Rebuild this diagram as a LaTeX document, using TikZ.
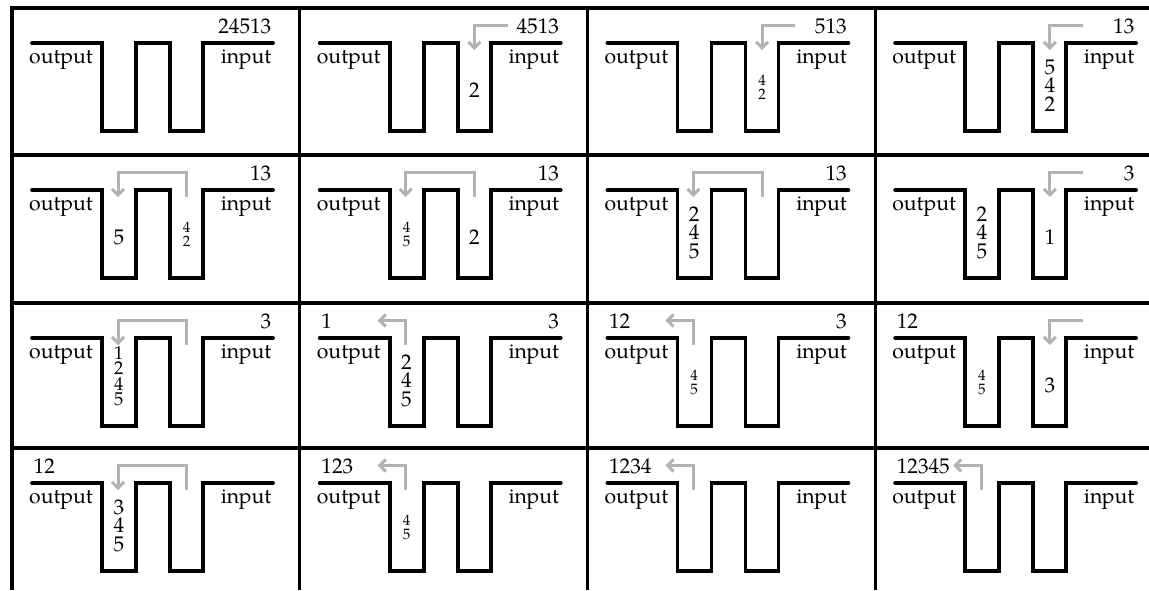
\documentclass[tikz,border=0pt]{standalone}
\usepackage{fontspec}
\setmainfont{texgyrepagella-regular}[Extension=.otf]
\usetikzlibrary{arrows.meta}
\newcommand\rsBigSize{\fontsize{21.2}{26}\selectfont}
\newcommand\rsMidSize{\fontsize{18.5}{22}\selectfont}
\newcommand\rsSmallSize{\fontsize{15}{18}\selectfont}
\tikzset{
  track/.style={line width=3.8pt, line cap=round, line join=miter},
  gridline/.style={line width=3.2pt},
  flow/.style={line width=3pt, draw=black!30, line join=miter,
    -{Straight Barb[length=6pt,width=12pt]}},
  lbl/.style={inner sep=0pt, font=\rsBigSize},
  mlbl/.style={inner sep=0pt, font=\rsMidSize},
  slbl/.style={inner sep=0pt, font=\rsSmallSize},
}
% stacks of cars in a siding; #2 = x centre of the siding
\newcommand\sone[3]{\node[lbl,anchor=base] (#1) at (#2,89) {#3};}
\newcommand\stwo[4]{%
  \node[slbl,anchor=base] (#1a) at (#2,77) {#3};
  \node[slbl,anchor=base] (#1b) at (#2,91) {#4};}
\newcommand\sthree[5]{%
  \node[lbl,anchor=base] (#1a) at (#2,66) {#3};
  \node[lbl,anchor=base] (#1b) at (#2,84.5) {#4};
  \node[lbl,anchor=base] (#1c) at (#2,103) {#5};}
\newcommand\sfour[6]{%
  \node[mlbl,anchor=base] (#1a) at (#2,56) {#3};
  \node[mlbl,anchor=base] (#1b) at (#2,71.5) {#4};
  \node[mlbl,anchor=base] (#1c) at (#2,87) {#5};
  \node[mlbl,anchor=base] (#1d) at (#2,102.5) {#6};}
% common frame of one panel
\newcommand\basepanel{%
  \draw[track] (20,35) -- (90,35) -- (90,123) -- (124,123) -- (124,35)
    -- (158,35) -- (158,123) -- (191,123) -- (191,35) -- (261,35);
  \node[lbl,anchor=base west] (output) at (17,55) {output};
  \node[lbl,anchor=base east] (input) at (259.5,55) {input};
  \coordinate (inS) at (208,17.5);
  \coordinate (rTop) at (174.7,17.5);
  \coordinate (rIn) at (174.7,42);
  \coordinate (lTop) at (106,17.5);
  \coordinate (lIn) at (106,42);
  \coordinate (outTip) at (78,17.5);}
\newcommand\tr[1]{\node[lbl,anchor=base east] (tr) at (259.5,25.5) {#1};}
\newcommand\tl[1]{\node[lbl,anchor=base west] (tl) at (21.5,25.5) {#1};}
\newcommand\arrin{\draw[flow] (inS) -- (rTop) -- (rIn);}
\newcommand\arrmove{\draw[flow] (rIn) -- (rTop) -- (lTop) -- (lIn);}
\newcommand\arrout{\draw[flow] (lIn) -- (lTop) -- (outTip);}
\def\Lx{106.8}
\def\Rx{174.7}
\begin{document}
\begin{tikzpicture}[x=1pt,y=-1pt]
\useasboundingbox (0,0) rectangle (1149,590);
% table rules
\draw[gridline] (12,590) -- (12,8) -- (1149,8);
\foreach \yy in {155,303,448} \draw[gridline] (12,\yy) -- (1149,\yy);
\foreach \xx in {299.7,587.4,875.1} \draw[gridline] (\xx,8) -- (\xx,590);
% row 1
\begin{scope}[shift={(12,8)},name prefix=c1-]
  \basepanel \tr{24513}
\end{scope}
\begin{scope}[shift={(299.7,8)},name prefix=c2-]
  \basepanel \tr{4513} \arrin \sone{r}{\Rx}{2}
\end{scope}
\begin{scope}[shift={(587.4,8)},name prefix=c3-]
  \basepanel \tr{513} \arrin \stwo{r}{\Rx}{4}{2}
\end{scope}
\begin{scope}[shift={(875.1,8)},name prefix=c4-]
  \basepanel \tr{13} \arrin \sthree{r}{\Rx}{5}{4}{2}
\end{scope}
% row 2
\begin{scope}[shift={(12,155)},name prefix=c5-]
  \basepanel \tr{13} \arrmove \sone{l}{\Lx}{5} \stwo{r}{\Rx}{4}{2}
\end{scope}
\begin{scope}[shift={(299.7,155)},name prefix=c6-]
  \basepanel \tr{13} \arrmove \stwo{l}{\Lx}{4}{5} \sone{r}{\Rx}{2}
\end{scope}
\begin{scope}[shift={(587.4,155)},name prefix=c7-]
  \basepanel \tr{13} \arrmove \sthree{l}{\Lx}{2}{4}{5}
\end{scope}
\begin{scope}[shift={(875.1,155)},name prefix=c8-]
  \basepanel \tr{3} \arrin \sthree{l}{\Lx}{2}{4}{5} \sone{r}{\Rx}{1}
\end{scope}
% row 3
\begin{scope}[shift={(12,303)},name prefix=c9-]
  \basepanel \tr{3} \arrmove \sfour{l}{\Lx}{1}{2}{4}{5}
\end{scope}
\begin{scope}[shift={(299.7,303)},name prefix=c10-]
  \basepanel \tl{1} \tr{3} \arrout \sthree{l}{\Lx}{2}{4}{5}
\end{scope}
\begin{scope}[shift={(587.4,303)},name prefix=c11-]
  \basepanel \tl{12} \tr{3} \arrout \stwo{l}{\Lx}{4}{5}
\end{scope}
\begin{scope}[shift={(875.1,303)},name prefix=c12-]
  \basepanel \tl{12} \arrin \stwo{l}{\Lx}{4}{5} \sone{r}{\Rx}{3}
\end{scope}
% row 4
\begin{scope}[shift={(12,448)},name prefix=c13-]
  \basepanel \tl{12} \arrmove \sthree{l}{\Lx}{3}{4}{5}
\end{scope}
\begin{scope}[shift={(299.7,448)},name prefix=c14-]
  \basepanel \tl{123} \arrout \stwo{l}{\Lx}{4}{5}
\end{scope}
\begin{scope}[shift={(587.4,448)},name prefix=c15-]
  \basepanel \tl{1234} \arrout
\end{scope}
\begin{scope}[shift={(875.1,448)},name prefix=c16-]
  \basepanel \tl{12345} \arrout
\end{scope}
\end{tikzpicture}
\end{document}
